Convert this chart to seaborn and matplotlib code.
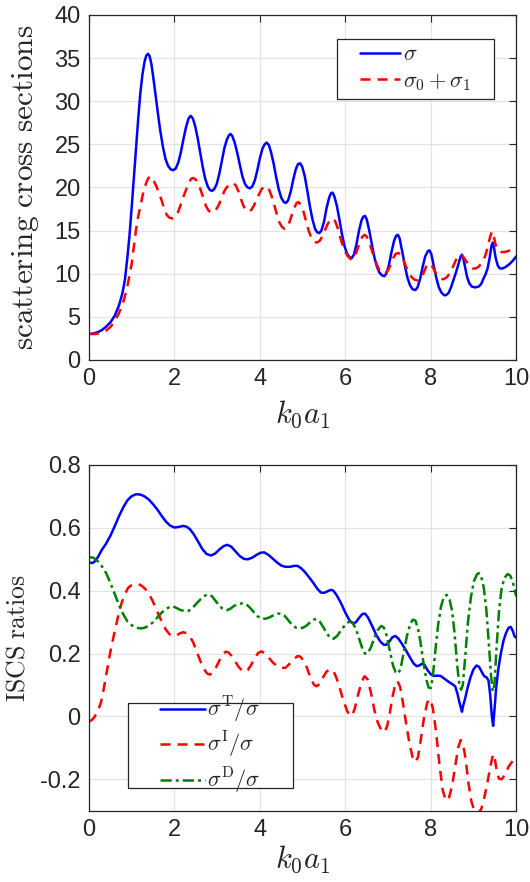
import numpy as np
import pandas as pd
import matplotlib
matplotlib.use("Agg")
import matplotlib.pyplot as plt
import seaborn as sns
from matplotlib.patches import Rectangle
from matplotlib.ticker import FuncFormatter

# ---- top panel: scattering cross sections ----
x_sigma = [0, 0.1, 0.2, 0.3, 0.4, 0.5, 0.6, 0.7, 0.78, 0.84, 0.9, 0.95, 1.0, 1.05, 1.1,
           1.15, 1.2, 1.25, 1.3, 1.34, 1.383, 1.42, 1.46, 1.50, 1.54, 1.58, 1.62, 1.67,
           1.73, 1.79, 1.85, 1.91, 1.97, 2.03, 2.09, 2.15, 2.21, 2.27, 2.33, 2.38, 2.43,
           2.48, 2.54, 2.60, 2.66, 2.72, 2.78, 2.83, 2.88, 2.93, 2.99, 3.05, 3.11, 3.17,
           3.23, 3.27, 3.31, 3.35, 3.41, 3.47, 3.53, 3.59, 3.65, 3.71, 3.77, 3.82, 3.88,
           3.94, 4.00, 4.06, 4.11, 4.16, 4.21, 4.26, 4.32, 4.38, 4.44, 4.50, 4.56, 4.61,
           4.66, 4.72, 4.78, 4.84, 4.89, 4.94, 4.99, 5.05, 5.11, 5.17, 5.23, 5.29, 5.34,
           5.39, 5.44, 5.50, 5.56, 5.62, 5.66, 5.70, 5.74, 5.80, 5.86, 5.92, 5.98, 6.04,
           6.10, 6.15, 6.20, 6.26, 6.32, 6.38, 6.42, 6.46, 6.50, 6.56, 6.62, 6.68, 6.74,
           6.80, 6.86, 6.91, 6.96, 7.02, 7.08, 7.14, 7.19, 7.23, 7.27, 7.33, 7.39, 7.45,
           7.51, 7.57, 7.64, 7.69, 7.75, 7.81, 7.87, 7.93, 7.97, 8.01, 8.07, 8.13, 8.19,
           8.25, 8.31, 8.36, 8.42, 8.48, 8.54, 8.60, 8.66, 8.70, 8.73, 8.76, 8.80, 8.85,
           8.90, 8.96, 9.04, 9.12, 9.18, 9.24, 9.28, 9.33, 9.38, 9.42, 9.45, 9.48, 9.52,
           9.57, 9.62, 9.68, 9.76, 9.84, 9.92, 10]
y_sigma = [3.0, 3.05, 3.2, 3.45, 3.85, 4.35, 5.1, 6.3, 7.7, 9.3, 12.0, 14.6, 17.8, 21.2,
           24.6, 27.9, 30.9, 33.1, 34.6, 35.3, 35.5, 35.2, 34.3, 32.9, 31.4, 29.8, 28.3,
           26.5, 24.7, 23.3, 22.5, 22.1, 22.0, 22.2, 22.9, 24.1, 25.6, 27.0, 28.0, 28.3,
           28.0, 27.2, 25.8, 24.1, 22.4, 21.0, 20.1, 19.7, 19.6, 19.8, 20.4, 21.6, 23.1,
           24.6, 25.6, 26.0, 26.2, 26.0, 25.2, 24.0, 22.6, 21.3, 20.4, 20.0, 19.9, 20.1,
           20.8, 22.0, 23.4, 24.5, 25.0, 25.2, 24.9, 24.1, 22.8, 21.2, 19.8, 18.8, 18.3,
           18.2, 18.5, 19.5, 20.9, 22.1, 22.7, 22.8, 22.4, 21.3, 19.6, 17.8, 16.3, 15.2,
           14.8, 14.7, 15.0, 16.0, 17.6, 18.8, 19.3, 19.4, 19.0, 17.9, 16.3, 14.6, 13.2,
           12.3, 11.9, 11.8, 12.2, 13.4, 15.0, 16.2, 16.6, 16.7, 16.3, 15.0, 13.4, 11.9,
           10.8, 10.1, 9.8, 9.7, 10.0, 11.0, 12.5, 13.8, 14.4, 14.5, 14.1, 12.6, 11.0, 9.6,
           8.7, 8.2, 8.1, 8.4, 9.4, 10.8, 12.0, 12.6, 12.7, 12.3, 10.9, 9.5, 8.4, 7.8, 7.5,
           7.5, 7.8, 8.5, 9.4, 10.3, 11.3, 12.0, 12.2, 11.8, 10.8, 9.6, 8.9, 8.5, 8.4, 8.5,
           8.8, 9.5, 9.9, 10.6, 11.9, 13.2, 13.6, 13.0, 11.8, 10.9, 10.6, 10.6, 10.8, 11.1,
           11.5, 12.0]

x_sigma01 = [0, 0.15, 0.3, 0.4, 0.5, 0.6, 0.7, 0.8, 0.88, 0.94, 1.0, 1.05, 1.1, 1.15,
             1.2, 1.26, 1.31, 1.36, 1.42, 1.47, 1.52, 1.58, 1.64, 1.70, 1.76, 1.82, 1.88,
             1.95, 2.02, 2.08, 2.14, 2.2, 2.27, 2.33, 2.39, 2.44, 2.5, 2.56, 2.62, 2.68,
             2.74, 2.8, 2.86, 2.91, 2.97, 3.03, 3.1, 3.16, 3.22, 3.3, 3.38, 3.44, 3.5,
             3.56, 3.62, 3.68, 3.74, 3.8, 3.86, 3.92, 3.98, 4.04, 4.1, 4.16, 4.22, 4.28,
             4.34, 4.4, 4.46, 4.52, 4.58, 4.63, 4.68, 4.74, 4.8, 4.86, 4.9, 4.96, 5.02,
             5.08, 5.14, 5.2, 5.26, 5.33, 5.4, 5.46, 5.52, 5.58, 5.64, 5.7, 5.76, 5.82,
             5.88, 5.94, 6.0, 6.06, 6.12, 6.16, 6.22, 6.28, 6.34, 6.4, 6.45, 6.5, 6.56,
             6.62, 6.68, 6.74, 6.8, 6.86, 6.93, 7.0, 7.06, 7.12, 7.18, 7.24, 7.3, 7.36,
             7.42, 7.48, 7.55, 7.62, 7.71, 7.78, 7.84, 7.9, 7.97, 8.03, 8.1, 8.16, 8.23,
             8.3, 8.38, 8.45, 8.52, 8.58, 8.64, 8.69, 8.75, 8.8, 8.86, 8.92, 8.98, 9.05,
             9.12, 9.2, 9.27, 9.33, 9.38, 9.43, 9.48, 9.52, 9.57, 9.65, 9.72, 9.8, 9.9, 10]
y_sigma01 = [3.0, 3.0, 3.15, 3.4, 3.8, 4.5, 5.4, 6.7, 8.1, 9.6, 11.2, 13.2, 15.1, 16.6,
             17.8, 19.2, 20.1, 20.8, 21.3, 21.1, 20.7, 20.1, 19.3, 18.5, 17.5, 16.8, 16.5,
             16.4, 16.6, 17.1, 17.9, 18.8, 19.7, 20.5, 21.0, 21.1, 20.9, 20.4, 19.6, 18.7,
             17.8, 17.3, 17.1, 17.1, 17.4, 17.9, 18.7, 19.5, 20.0, 20.4, 20.5, 20.2, 19.5,
             18.6, 17.8, 17.3, 17.2, 17.4, 17.9, 18.5, 19.2, 19.8, 20.1, 20.1, 19.7, 18.9,
             17.9, 16.8, 15.9, 15.4, 15.2, 15.3, 15.8, 16.7, 17.6, 18.2, 18.3, 18.0, 17.2,
             16.1, 15.0, 14.2, 13.7, 13.6, 13.8, 14.3, 15.0, 15.7, 16.2, 16.4, 16.1, 15.3,
             14.2, 13.2, 12.5, 12.0, 11.7, 11.6, 12.0, 12.8, 13.7, 14.3, 14.5, 14.3, 13.6,
             12.7, 11.8, 11.0, 10.4, 10.1, 10.0, 10.4, 11.0, 11.8, 12.3, 12.4, 12.2, 11.6,
             10.8, 10.1, 9.6, 9.3, 9.2, 9.5, 10.2, 10.9, 11.2, 10.9, 10.2, 9.7, 9.4,
             9.35, 9.6, 10.1, 10.8, 11.5, 12.0, 12.2, 12.0, 11.7, 11.2, 10.8, 10.6, 10.6,
             10.8, 11.3, 12.0, 13.0, 14.1, 14.9, 14.2, 13.3, 12.7, 12.5, 12.5, 12.6, 12.8,
             12.9]

# ---- bottom panel: ISCS ratios ----
x_T = [0, 0.08, 0.15, 0.22, 0.3, 0.4, 0.5, 0.6, 0.7, 0.8, 0.9, 1.0, 1.1, 1.2, 1.3, 1.4,
       1.5, 1.6, 1.7, 1.8, 1.9, 2.0, 2.1, 2.2, 2.28, 2.36, 2.45, 2.55, 2.65, 2.75, 2.85,
       2.95, 3.05, 3.15, 3.24, 3.33, 3.43, 3.53, 3.63, 3.72, 3.82, 3.92, 4.02, 4.1, 4.2,
       4.3, 4.4, 4.5, 4.6, 4.7, 4.8, 4.88, 4.96, 5.05, 5.15, 5.25, 5.35, 5.43, 5.5, 5.58,
       5.66, 5.72, 5.8, 5.9, 6.0, 6.1, 6.18, 6.25, 6.33, 6.4, 6.46, 6.53, 6.62, 6.72,
       6.82, 6.9, 6.96, 7.04, 7.1, 7.17, 7.24, 7.32, 7.42, 7.52, 7.6, 7.67, 7.73, 7.8,
       7.85, 7.92, 8.0, 8.07, 8.15, 8.23, 8.32, 8.42, 8.5, 8.57, 8.62, 8.67, 8.70, 8.73,
       8.76, 8.8, 8.86, 8.93, 9.0, 9.07, 9.13, 9.2, 9.25, 9.3, 9.35, 9.39, 9.43, 9.46,
       9.49, 9.53, 9.58, 9.64, 9.7, 9.76, 9.82, 9.87, 9.92, 9.96, 10]
y_T = [0.49, 0.488, 0.495, 0.51, 0.53, 0.55, 0.575, 0.605, 0.637, 0.665, 0.688, 0.701,
       0.707, 0.706, 0.70, 0.69, 0.675, 0.658, 0.638, 0.62, 0.607, 0.601, 0.603, 0.606,
       0.604, 0.596, 0.58, 0.557, 0.533, 0.517, 0.512, 0.518, 0.531, 0.542, 0.546, 0.54,
       0.525, 0.51, 0.501, 0.500, 0.505, 0.514, 0.521, 0.522, 0.514, 0.502, 0.49, 0.48,
       0.476, 0.476, 0.479, 0.479, 0.472, 0.46, 0.443, 0.425, 0.405, 0.394, 0.393, 0.398,
       0.403, 0.4, 0.385, 0.36, 0.33, 0.305, 0.296, 0.3, 0.315, 0.326, 0.327, 0.315, 0.29,
       0.26, 0.238, 0.228, 0.228, 0.24, 0.252, 0.256, 0.248, 0.232, 0.21, 0.186, 0.168,
       0.16, 0.162, 0.168, 0.165, 0.148, 0.134, 0.129, 0.13, 0.129, 0.12, 0.11, 0.103,
       0.096, 0.075, 0.045, 0.03, 0.015, 0.035, 0.055, 0.09, 0.125, 0.15, 0.162, 0.158,
       0.14, 0.128, 0.125, 0.115, 0.07, 0.0, -0.03, 0.02, 0.09, 0.15, 0.2, 0.24, 0.265,
       0.282, 0.285, 0.272, 0.255, 0.25]

x_I = [0, 0.06, 0.12, 0.2, 0.28, 0.34, 0.4, 0.46, 0.52, 0.6, 0.68, 0.76, 0.84, 0.92, 1.0,
       1.08, 1.16, 1.24, 1.32, 1.4, 1.48, 1.56, 1.64, 1.72, 1.8, 1.88, 1.96, 2.04, 2.12,
       2.2, 2.28, 2.36, 2.44, 2.52, 2.6, 2.68, 2.76, 2.83, 2.9, 2.98, 3.06, 3.14, 3.2,
       3.26, 3.34, 3.42, 3.5, 3.58, 3.65, 3.72, 3.8, 3.88, 3.96, 4.04, 4.12, 4.2, 4.3,
       4.4, 4.5, 4.6, 4.7, 4.8, 4.88, 4.95, 5.02, 5.1, 5.18, 5.26, 5.32, 5.4, 5.48, 5.56,
       5.64, 5.72, 5.8, 5.88, 5.96, 6.04, 6.1, 6.16, 6.22, 6.3, 6.38, 6.45, 6.52, 6.6,
       6.68, 6.76, 6.84, 6.92, 6.98, 7.04, 7.1, 7.17, 7.22, 7.28, 7.34, 7.42, 7.5, 7.57,
       7.64, 7.7, 7.77, 7.84, 7.92, 7.99, 8.05, 8.12, 8.2, 8.28, 8.35, 8.42, 8.5, 8.57,
       8.64, 8.7, 8.76, 8.82, 8.88, 8.95, 9.02, 9.1, 9.18, 9.25, 9.32, 9.4, 9.46, 9.5,
       9.55, 9.6, 9.66, 9.74, 9.82, 9.9, 10]
y_I = [-0.016, -0.012, -0.003, 0.015, 0.045, 0.085, 0.13, 0.178, 0.22, 0.27, 0.318,
       0.36, 0.39, 0.41, 0.418, 0.421, 0.421, 0.415, 0.405, 0.39, 0.37, 0.345, 0.32,
       0.296, 0.276, 0.262, 0.256, 0.257, 0.264, 0.268, 0.265, 0.255, 0.235, 0.206,
       0.178, 0.153, 0.137, 0.133, 0.14, 0.158, 0.18, 0.198, 0.206, 0.204, 0.192, 0.175,
       0.158, 0.146, 0.142, 0.148, 0.165, 0.186, 0.202, 0.207, 0.2, 0.188, 0.172, 0.16,
       0.154, 0.155, 0.168, 0.183, 0.192, 0.19, 0.178, 0.155, 0.125, 0.102, 0.096, 0.103,
       0.125, 0.143, 0.15, 0.145, 0.12, 0.085, 0.048, 0.018, 0.004, 0.003, 0.025, 0.07,
       0.11, 0.128, 0.118, 0.075, 0.02, -0.02, -0.043, -0.05, -0.03, 0.01, 0.06, 0.103,
       0.112, 0.095, 0.05, -0.02, -0.085, -0.128, -0.145, -0.13, -0.07, -0.005, 0.045,
       0.055, 0.025, -0.045, -0.15, -0.235, -0.267, -0.262, -0.22, -0.16, -0.1, -0.075,
       -0.09, -0.14, -0.21, -0.27, -0.3, -0.31, -0.295, -0.26, -0.215, -0.155, -0.12,
       -0.135, -0.18, -0.198, -0.2, -0.185, -0.16, -0.145, -0.13]

x_D = [0, 0.1, 0.2, 0.3, 0.4, 0.5, 0.6, 0.7, 0.8, 0.9, 1.0, 1.1, 1.2, 1.3, 1.4, 1.5, 1.6,
       1.7, 1.8, 1.9, 1.97, 2.05, 2.15, 2.25, 2.33, 2.42, 2.52, 2.62, 2.72, 2.8, 2.88,
       2.96, 3.05, 3.14, 3.22, 3.3, 3.4, 3.5, 3.6, 3.68, 3.76, 3.85, 3.95, 4.05, 4.13,
       4.22, 4.32, 4.42, 4.5, 4.58, 4.66, 4.75, 4.85, 4.93, 5.02, 5.1, 5.18, 5.26, 5.32,
       5.4, 5.48, 5.57, 5.65, 5.72, 5.8, 5.88, 5.96, 6.04, 6.1, 6.17, 6.25, 6.33, 6.4,
       6.46, 6.52, 6.6, 6.68, 6.76, 6.84, 6.9, 6.96, 7.04, 7.12, 7.18, 7.23, 7.29, 7.36,
       7.44, 7.52, 7.58, 7.64, 7.7, 7.76, 7.83, 7.9, 7.95, 8.0, 8.05, 8.1, 8.17, 8.24,
       8.3, 8.37, 8.44, 8.5, 8.56, 8.62, 8.67, 8.71, 8.75, 8.8, 8.87, 8.94, 9.01, 9.08,
       9.13, 9.18, 9.24, 9.3, 9.36, 9.41, 9.45, 9.49, 9.54, 9.6, 9.66, 9.73, 9.8, 9.86,
       9.92, 9.97, 10]
y_D = [0.507, 0.505, 0.495, 0.478, 0.456, 0.425, 0.39, 0.355, 0.325, 0.302, 0.29, 0.283,
       0.28, 0.282, 0.289, 0.3, 0.315, 0.33, 0.342, 0.349, 0.35, 0.345, 0.338, 0.335,
       0.336, 0.345, 0.36, 0.374, 0.385, 0.388, 0.382, 0.368, 0.352, 0.341, 0.338, 0.342,
       0.352, 0.358, 0.36, 0.357, 0.347, 0.333, 0.318, 0.311, 0.311, 0.315, 0.322, 0.327,
       0.327, 0.32, 0.307, 0.292, 0.282, 0.28, 0.283, 0.29, 0.3, 0.308, 0.31, 0.302,
       0.285, 0.263, 0.25, 0.247, 0.255, 0.27, 0.285, 0.297, 0.302, 0.298, 0.278, 0.245,
       0.215, 0.2, 0.2, 0.22, 0.25, 0.275, 0.288, 0.283, 0.26, 0.21, 0.16, 0.14, 0.136,
       0.15, 0.2, 0.255, 0.295, 0.308, 0.305, 0.28, 0.235, 0.17, 0.115, 0.092, 0.09,
       0.13, 0.2, 0.29, 0.35, 0.378, 0.387, 0.372, 0.335, 0.26, 0.16, 0.1, 0.085, 0.1,
       0.18, 0.3, 0.38, 0.43, 0.452, 0.456, 0.445, 0.41, 0.34, 0.23, 0.13, 0.08, 0.1,
       0.22, 0.34, 0.41, 0.442, 0.453, 0.448, 0.428, 0.4, 0.382]

x_ticks = [0, 2, 4, 6, 8, 10]
top_yticks = [0, 5, 10, 15, 20, 25, 30, 35, 40]
bot_yticks = [-0.2, 0, 0.2, 0.4, 0.6, 0.8]

BLUE, RED, GREEN = "#0000ff", "#ff0000", "#008000"
DASH = (0, (4.0, 2.8))
DASHDOT = (0, (4.5, 1.6, 1.2, 1.6))
EDGE = "#262626"


def style_axes(ax, yticks, ylim, xpad):
    ax.set_xlim(0, 10)
    ax.set_ylim(*ylim)
    ax.set_xticks(x_ticks)
    ax.set_yticks(yticks)
    ax.yaxis.set_major_formatter(FuncFormatter(lambda v, p: f"{v:g}"))
    ax.grid(True, color="#e3e3e3", linewidth=0.9)
    ax.set_axisbelow(True)
    ax.tick_params(direction="in", length=5, width=0.8, top=True, right=True,
                   labelsize=17, colors=EDGE, pad=6)
    for s in ax.spines.values():
        s.set_color(EDGE)
        s.set_linewidth(0.9)
    ax.set_xlabel(r"$k_0a_1$", fontsize=22, labelpad=xpad)


def legend_box(ax, x0, y0, w, h, hlen):
    # MATLAB-style box drawn behind a frameless legend
    ax.add_patch(Rectangle((x0, y0), w, h, transform=ax.transAxes, facecolor="white",
                           edgecolor=EDGE, linewidth=0.9, zorder=4))
    ax.legend(loc="center", bbox_to_anchor=(x0 + w / 2, y0 + h / 2), fontsize=16,
              handlelength=hlen, handletextpad=0.1, labelspacing=0.25, borderpad=0,
              borderaxespad=0, frameon=False)


def main():
    sns.set_theme(style="white")
    plt.rcParams["font.family"] = ["Liberation Sans", "DejaVu Sans"]
    plt.rcParams["mathtext.fontset"] = "cm"
    plt.rcParams["axes.unicode_minus"] = False

    fig = plt.figure(figsize=(5.3, 8.82), dpi=100)
    ax1 = fig.add_axes([0.168, 0.592, 0.806, 0.391])
    ax2 = fig.add_axes([0.168, 0.0808, 0.806, 0.392])

    lw = 1.8
    sns.lineplot(x=x_sigma, y=y_sigma, ax=ax1, color=BLUE, lw=lw, label=r"$\sigma$")
    sns.lineplot(x=x_sigma01, y=y_sigma01, ax=ax1, color=RED, lw=lw,
                 linestyle=DASH, label=r"$\sigma_0+\sigma_1$")
    style_axes(ax1, top_yticks, (0, 40), 6)
    ax1.set_ylabel(r"$\mathrm{scattering\ cross\ sections}$", fontsize=22.5, labelpad=10)
    legend_box(ax1, 0.581, 0.757, 0.367, 0.174, 1.8)

    sns.lineplot(x=x_T, y=y_T, ax=ax2, color=BLUE, lw=lw,
                 label=r"$\sigma^{\mathrm{T}}/\sigma$")
    sns.lineplot(x=x_I, y=y_I, ax=ax2, color=RED, lw=lw, linestyle=DASH,
                 label=r"$\sigma^{\mathrm{I}}/\sigma$")
    sns.lineplot(x=x_D, y=y_D, ax=ax2, color=GREEN, lw=lw, linestyle=DASHDOT,
                 label=r"$\sigma^{\mathrm{D}}/\sigma$")
    style_axes(ax2, bot_yticks, (-0.3, 0.8), 2)
    ax2.set_ylabel(r"$\mathrm{ISCS\ ratios}$", fontsize=18.5, labelpad=8)
    legend_box(ax2, 0.091, 0.066, 0.386, 0.246, 2.0)

    fig.savefig("out.png", dpi=100)
    plt.close(fig)


if __name__ == "__main__":
    main()
